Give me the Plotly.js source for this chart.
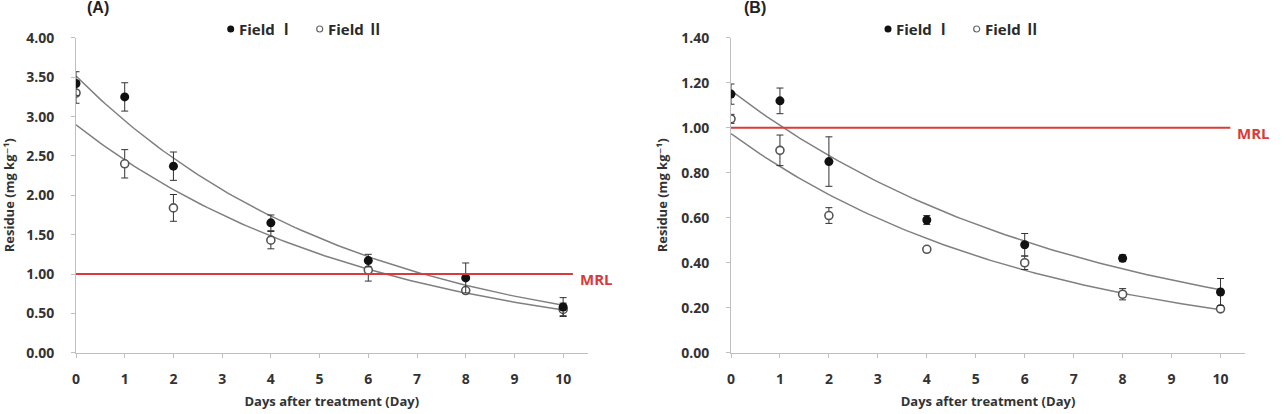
<!DOCTYPE html>
<html>
<head>
<meta charset="utf-8">
<script src="https://cdn.plot.ly/plotly-3.0.1.min.js"></script>
<style>html,body{margin:0;padding:0;background:#fff;}#chart{width:1287px;height:414px;}</style>
</head>
<body>
<div id="chart"></div>
<script>
// ---- data ----
const days = [0, 1, 2, 4, 6, 8, 10];
const aField1 = [3.42, 3.25, 2.37, 1.65, 1.17, 0.95, 0.58];
const aField1Err = [0.15, 0.18, 0.18, 0.10, 0.08, 0.19, 0.12];
const aField2 = [3.30, 2.40, 1.84, 1.43, 1.05, 0.79, 0.55];
const aField2Err = [0.13, 0.18, 0.17, 0.11, 0.14, 0.03, 0.08];
const bField1 = [1.15, 1.12, 0.85, 0.59, 0.48, 0.42, 0.27];
const bField1Err = [0.045, 0.057, 0.11, 0.02, 0.05, 0.015, 0.06];
const bField2 = [1.04, 0.90, 0.61, 0.46, 0.40, 0.26, 0.195];
const bField2Err = [0.02, 0.068, 0.035, 0.01, 0.03, 0.025, 0.01];
const mrlValue = 1.0;
const mrlLabel = 'MRL';
const seriesNames = ['Field Ⅰ', 'Field Ⅱ'];
const panelLabels = ['(A)', '(B)'];
const xTitle = 'Days after treatment (Day)';
const yTitle = 'Residue (mg kg⁻¹)';

// ---- exponential trendline (least squares on ln y, as Excel does) ----
function expFit(x, y) {
  const n = x.length;
  const ly = y.map(v => Math.log(v));
  const mx = x.reduce((s, v) => s + v, 0) / n;
  const my = ly.reduce((s, v) => s + v, 0) / n;
  let sxx = 0, sxy = 0;
  for (let i = 0; i < n; i++) { sxx += (x[i] - mx) ** 2; sxy += (x[i] - mx) * (ly[i] - my); }
  const b = sxy / sxx;
  const a = Math.exp(my - b * mx);
  return { a, b };
}
function trend(x, y) {
  const f = expFit(x, y);
  const xs = [], ys = [];
  const lo = Math.min(...x), hi = Math.max(...x);
  for (let i = 0; i <= 100; i++) { const t = lo + (hi - lo) * i / 100; xs.push(t); ys.push(f.a * Math.exp(f.b * t)); }
  return { xs, ys };
}

const W = 1287, H = 414;
const px = v => v / W;
const py = v => 1 - v / H;

const FONT = '"Open Sans", "Noto Sans CJK KR", "DejaVu Sans", sans-serif';
const TXT = '#333333';
const RED = '#d93a3a';
const FIT = '#808080';

function panelTraces(y1, e1, y2, e2, xa, ya) {
  const t1 = trend(days, y1), t2 = trend(days, y2);
  return [
    { x: t1.xs, y: t1.ys, xaxis: xa, yaxis: ya, mode: 'lines', line: { color: FIT, width: 1.5 }, hoverinfo: 'skip', showlegend: false },
    { x: t2.xs, y: t2.ys, xaxis: xa, yaxis: ya, mode: 'lines', line: { color: FIT, width: 1.5 }, hoverinfo: 'skip', showlegend: false },
    { x: days, y: y2, xaxis: xa, yaxis: ya, mode: 'markers', name: seriesNames[1], showlegend: false,
      marker: { symbol: 'circle', size: 8, color: '#ffffff', line: { color: '#555555', width: 1.6 } },
      error_y: { type: 'data', array: e2, visible: true, color: '#333333', thickness: 1, width: 3.5 } },
    { x: days, y: y1, xaxis: xa, yaxis: ya, mode: 'markers', name: seriesNames[0], showlegend: false,
      marker: { symbol: 'circle', size: 9, color: '#111111' },
      error_y: { type: 'data', array: e1, visible: true, color: '#333333', thickness: 1, width: 3.5 } }
  ];
}

const data = [
  ...panelTraces(aField1, aField1Err, aField2, aField2Err, 'x', 'y'),
  ...panelTraces(bField1, bField1Err, bField2, bField2Err, 'x2', 'y2')
];

const yDom = [py(352.7), py(37.9)];
function xAxis(d0, d1, anchor) {
  return {
    domain: [px(d0), px(d1)], anchor: anchor, range: [0, 10.5], dtick: 1, tick0: 0,
    showline: true, linecolor: '#bfbfbf', linewidth: 1, ticks: 'outside', ticklen: 4, tickcolor: '#bfbfbf',
    showgrid: false, zeroline: false, ticklabelstandoff: 9,
    tickfont: { family: FONT, size: 14, color: TXT, weight: 'bold' },
    title: { text: xTitle, standoff: 10, font: { family: FONT, size: 13, color: TXT, weight: 'bold' } }
  };
}
function yAxis(max, dt, anchor) {
  return {
    domain: yDom, anchor: anchor, range: [0, max], dtick: dt, tick0: 0, tickformat: '.2f',
    showline: true, linecolor: '#bfbfbf', linewidth: 1, ticks: 'outside', ticklen: 4, tickcolor: '#bfbfbf',
    showgrid: false, zeroline: false, ticklabelstandoff: 14,
    tickfont: { family: FONT, size: 14, color: TXT, weight: 'bold' },
    title: { text: yTitle, standoff: 10, font: { family: FONT, size: 13, color: TXT, weight: 'bold' } }
  };
}

const ann = [];
const shapes = [];
function addText(text, x, y, opts) {
  ann.push(Object.assign({ text, x: px(x), y: py(y), xref: 'paper', yref: 'paper', showarrow: false,
    xanchor: 'center', yanchor: 'middle', font: { family: FONT, size: 13, color: TXT, weight: 'bold' } }, opts || {}));
}
// panel labels
addText(panelLabels[0], 98, 8, { font: { family: '"Liberation Sans", Arial, sans-serif', size: 16, color: '#222', weight: 'bold' } });
addText(panelLabels[1], 755, 8, { font: { family: '"Liberation Sans", Arial, sans-serif', size: 16, color: '#222', weight: 'bold' } });

// MRL lines and labels
[['x', 'y'], ['x2', 'y2']].forEach(([xr, yr]) => {
  shapes.push({ type: 'line', xref: xr, yref: yr, x0: 0, x1: 10.2, y0: mrlValue, y1: mrlValue, line: { color: RED, width: 2 } });
  ann.push({ text: mrlLabel, xref: xr, yref: yr, x: 10.2, y: mrlValue, xanchor: 'left', yanchor: 'middle', xshift: 5, yshift: -5,
    showarrow: false, font: { family: FONT, size: 15, color: RED, weight: 'bold' } });
});

// legends (dot + text)
function legendItem(cx, cy, filled, label) {
  const r = filled ? 3.5 : 3;
  shapes.push({ type: 'circle', xref: 'paper', yref: 'paper', xsizemode: 'pixel', ysizemode: 'pixel',
    xanchor: px(cx), yanchor: py(cy), x0: -r, x1: r, y0: -r, y1: r,
    fillcolor: filled ? '#111' : '#fff', line: { color: filled ? '#111' : '#666', width: filled ? 0 : 1.2 } });
  addText(label, cx + 6, cy, { xanchor: 'left', font: { family: FONT, size: 15, color: '#2a2a2a', weight: 'bold' } });
}
legendItem(230.7, 29, true, seriesNames[0]);
legendItem(319.7, 29, false, seriesNames[1]);
legendItem(888, 29, true, seriesNames[0]);
legendItem(976.7, 29, false, seriesNames[1]);

const layout = {
  width: W, height: H, margin: { l: 0, r: 0, t: 0, b: 0 },
  paper_bgcolor: '#fff', plot_bgcolor: '#fff', showlegend: false,
  xaxis: xAxis(76, 587.5, 'y'), yaxis: yAxis(4, 0.5, 'x'),
  xaxis2: xAxis(731, 1245, 'y2'), yaxis2: yAxis(1.4, 0.2, 'x2'),
  annotations: ann, shapes: shapes
};

Plotly.newPlot('chart', data, layout, { displayModeBar: false, staticPlot: true }).then(() => {
  const tester = document.getElementById('js-plotly-tester');
  if (tester) tester.remove();
});
</script>
</body>
</html>
